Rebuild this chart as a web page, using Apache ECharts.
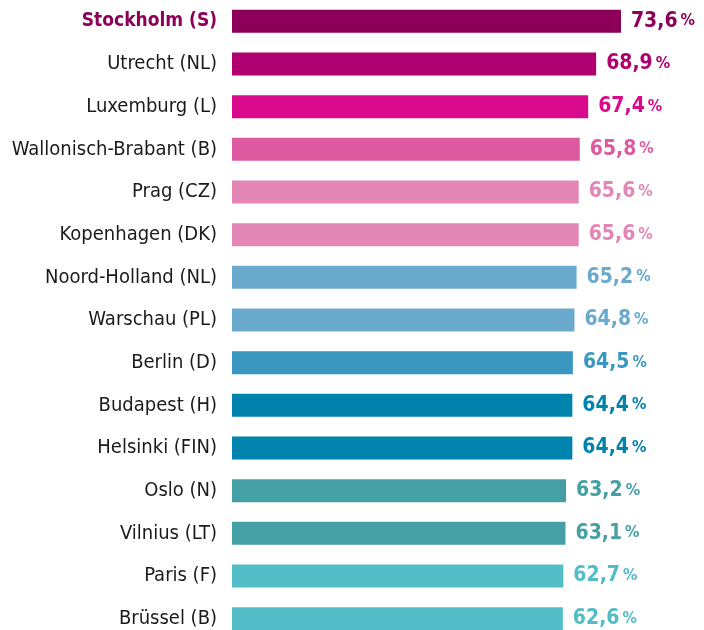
<!DOCTYPE html>
<html>
<head>
<meta charset="utf-8">
<script src="https://cdn.jsdelivr.net/npm/echarts@6/dist/echarts.min.js"></script>
<style>
    html, body { margin: 0; padding: 0; background: #fff; }
    #chart { width: 704px; height: 630px; }
</style>
</head>
<body>
<div id="chart"></div>
<script>
// Regionen (von oben nach unten)
const cities = [
    'Stockholm (S)', 'Utrecht (NL)', 'Luxemburg (L)', 'Wallonisch-Brabant (B)',
    'Prag (CZ)', 'Kopenhagen (DK)', 'Noord-Holland (NL)', 'Warschau (PL)',
    'Berlin (D)', 'Budapest (H)', 'Helsinki (FIN)', 'Oslo (N)',
    'Vilnius (LT)', 'Paris (F)', 'Brüssel (B)'
]
// Werte in Prozent
const values = [73.6, 68.9, 67.4, 65.8, 65.6, 65.6, 65.2, 64.8, 64.5, 64.4, 64.4, 63.2, 63.1, 62.7, 62.6]

// Farbe je Balken
const palette = [
    '#8d005a', '#b0006f', '#d90a8c', '#de5aa0', '#e286b6', '#e286b6',
    '#6aaacd', '#6aaacd', '#3a98c0', '#0084ae', '#0084ae',
    '#45a0a6', '#45a0a6', '#52bcc7', '#52bcc7'
]

const labelFont = '"Liberation Sans Narrow", "DejaVu Sans Condensed", sans-serif'
const valueFont = '"DejaVu Sans Condensed", sans-serif'

let myChart = echarts.init(document.getElementById('chart'))

let seriesData = values.map((v, i) => ({
    value: v,
    itemStyle: { color: palette[i] },
    label: {
        rich: {
            v: { color: palette[i] },
            p: { color: palette[i] }
        }
    }
}))

myChart.setOption({
    animation: false,
    grid: {
        left: 232,
        top: 0,
        height: 640, // letzter Balken ist unten leicht angeschnitten
        width: 80 * 5.285,
        outerBoundsMode: 'none'
    },
    xAxis: {
        type: 'value',
        min: 0,
        max: 80,
        show: false
    },
    yAxis: {
        type: 'category',
        data: cities,
        inverse: true,
        axisLine: { show: false },
        axisTick: { show: false },
        splitLine: { show: false },
        axisLabel: {
            margin: 15,
            fontFamily: labelFont,
            fontSize: 20,
            color: '#1a1a1a',
            formatter: function (name, idx) {
                return idx === 0 ? '{b|' + name + '}' : name
            },
            rich: {
                b: {
                    fontFamily: labelFont,
                    fontSize: 19,
                    fontWeight: 'bold',
                    color: '#8d005a'
                }
            }
        }
    },
    series: [{
        type: 'bar',
        data: seriesData,
        barWidth: 23,
        label: {
            show: true,
            position: 'right',
            distance: 10,
            formatter: function (p) {
                return '{v|' + p.value.toFixed(1).replace('.', ',') + '}{p|%}'
            },
            rich: {
                v: {
                    fontFamily: valueFont,
                    fontWeight: 'bold',
                    fontSize: 21
                },
                p: {
                    fontFamily: valueFont,
                    fontWeight: 'bold',
                    fontSize: 16,
                    padding: [0, 0, 0, 3]
                }
            }
        }
    }]
})
</script>
</body>
</html>
